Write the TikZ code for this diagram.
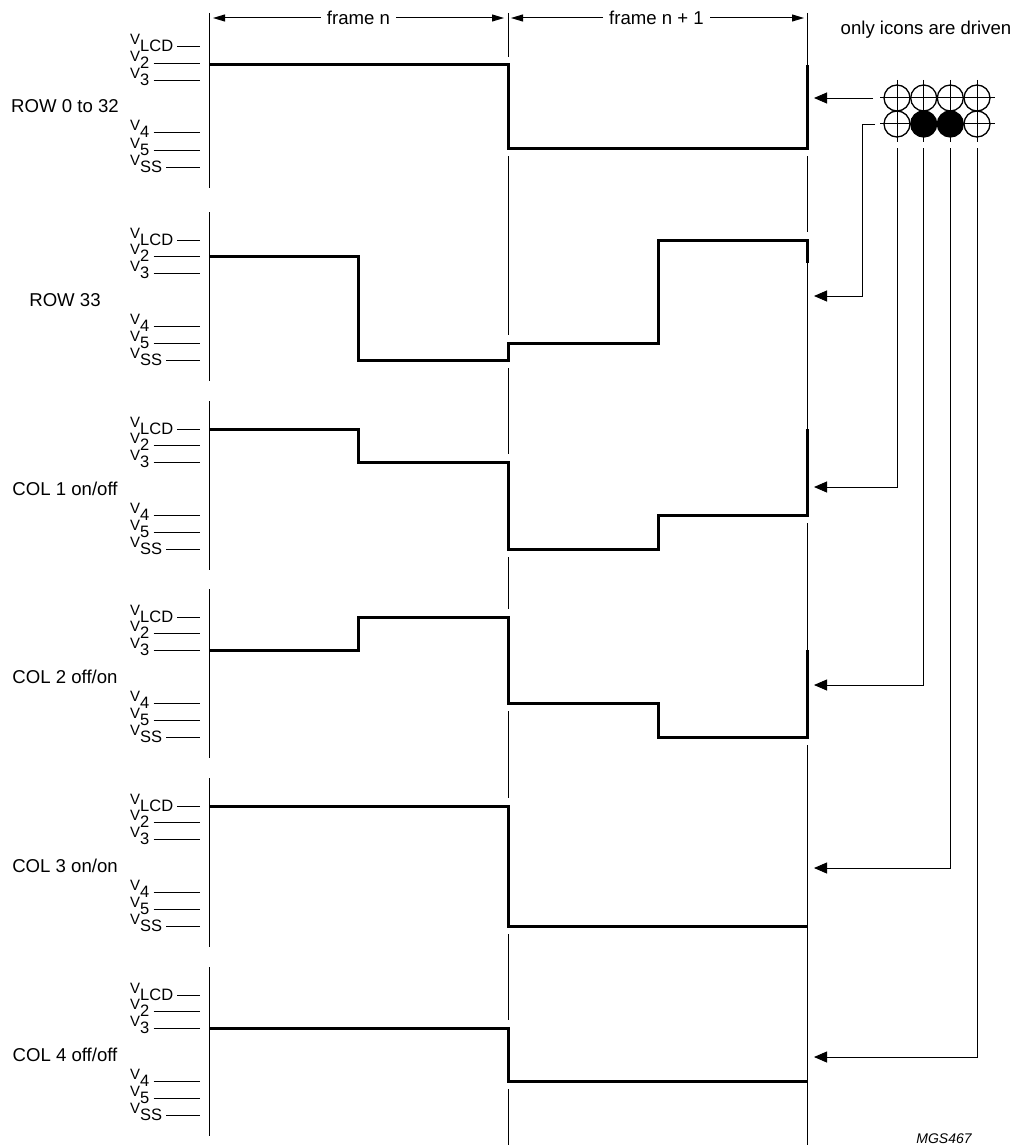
\documentclass[tikz,border=0pt]{standalone}
\usepackage{fontspec}
\setmainfont{Liberation Sans}
\usetikzlibrary{arrows.meta,calc}
\newcommand{\txtsz}{\fontsize{18.6}{20}\selectfont}
\newcommand{\vsz}{\fontsize{15}{16}\selectfont}
\newcommand{\subsz}{\fontsize{16.5}{17}\selectfont}
\tikzset{
  thinln/.style={line width=1pt},
  tickln/.style={line width=1pt},
  wave/.style={line width=3pt, line join=miter,
    preaction={draw=white, line width=16pt, line cap=square}},
  vlab/.style={inner sep=0pt, anchor=base west, font=\vsz},
  rowlab/.style={inner sep=0pt, anchor=base, font=\txtsz},
  hlab/.style={inner xsep=6pt, inner ysep=0pt, font=\txtsz},
  harrow/.style={line width=1pt, -{Triangle[length=12pt,width=7pt]}},
  conn/.style={line width=0.9pt, -{Triangle[length=13pt,width=11pt]}},
  icon/.style={circle, draw, line width=1.3pt, minimum size=26pt, inner sep=0pt},
  iconon/.style={icon, fill=black},
}
\newcommand{\drawpanel}[4]{%
  \foreach \nm/\ssub/\dy in {a/LCD/0,b/2/16.7,c/3/33.3,d/4/86,e/5/103,f/SS/120}{%
    \coordinate (#1\nm) at (200,#2+\dy);
    \node[vlab] (#1\nm l) at (130,#2+\dy-2) {V\raisebox{-7pt}{\subsz\ssub}};
    \draw[tickln] ([xshift=4pt]#1\nm l.east |- #1\nm) -- (#1\nm);
  }
  \coordinate (#1top) at (209,#4);
  \coordinate (#1bot) at (209,#2+141);
  \draw[thinln] (#1top) -- (#1bot);
  \node[rowlab] (#1lab) at (65,#2+66) {#3};
}
\begin{document}
\begin{tikzpicture}[x=1pt,y=-1pt]
\useasboundingbox (0,0) rectangle (1021,1145);

% frame boundary lines
\coordinate (mT) at (508,13); \coordinate (mB) at (508,1145);
\coordinate (rT) at (807,13); \coordinate (rB) at (807,1145);
\draw[thinln] (mT) -- (mB);
\draw[thinln] (rT) -- (rB);

% waveforms
\draw[wave] (209,65) -- (508,65) -- (508,148) -- (807,148) -- (807,65);
\draw[wave] (209,256.7) -- (358,256.7) -- (358,360) -- (508,360) -- (508,343) -- (658,343) -- (658,240) -- (807,240) -- (807,263);
\draw[wave] (209,429) -- (358,429) -- (358,462.3) -- (508,462.3) -- (508,549) -- (658,549) -- (658,515) -- (807,515) -- (807,429);
\draw[wave] (209,650.3) -- (358,650.3) -- (358,617) -- (508,617) -- (508,703) -- (658,703) -- (658,737) -- (807,737) -- (807,650.3);
\draw[wave] (209,806) -- (508,806) -- (508,926) -- (807,926);
\draw[wave] (209,1028.3) -- (508,1028.3) -- (508,1081) -- (807,1081);

% panels: axis, level ticks, labels
\drawpanel{pa}{47}{ROW 0 to 32}{13}
\drawpanel{pb}{240}{ROW 33}{212}
\drawpanel{pc}{429}{COL 1 on/off}{401}
\drawpanel{pd}{617}{COL 2 off/on}{589}
\drawpanel{pe}{806}{COL 3 on/on}{778}
\drawpanel{pf}{995}{COL 4 off/off}{967}

% header
\coordinate (hL) at (213,18);
\coordinate (hM1) at (504,18);
\coordinate (hM2) at (511,18);
\coordinate (hR) at (804,18);
\node[hlab] (fn) at (358.5,18) {frame n};
\node[hlab] (fn1) at (656.5,18) {frame n + 1};
\draw[harrow] (fn.west) -- (hL);
\draw[harrow] (fn.east) -- (hM1);
\draw[harrow] (fn1.west) -- (hM2);
\draw[harrow] (fn1.east) -- (hR);
\node[font=\txtsz, anchor=base] (only) at (926,35) {only icons are driven};

% icon grid
\foreach \y in {98,124} \draw[line width=1pt] (880,\y) -- (995,\y);
\foreach \x in {897,923.7,950.3,977} \draw[line width=1pt] (\x,80) -- (\x,142);
\node[icon] (i11) at (897,98) {};
\node[icon] (i12) at (923.7,98) {};
\node[icon] (i13) at (950.3,98) {};
\node[icon] (i14) at (977,98) {};
\node[icon] (i21) at (897,124) {};
\node[iconon] (i22) at (923.7,124) {};
\node[iconon] (i23) at (950.3,124) {};
\node[icon] (i24) at (977,124) {};

% connectors
\coordinate (r1s) at (873,98);
\coordinate (r2s) at (875,124);
\coordinate (k2) at (862,296);
\coordinate (c1s) at (897,148);
\coordinate (c2s) at (923.7,148);
\coordinate (c3s) at (950.3,148);
\coordinate (c4s) at (977,148);
\coordinate (aa) at (814,98);
\coordinate (ab) at (814,296);
\coordinate (ac) at (814,487);
\coordinate (ad) at (814,685);
\coordinate (ae) at (814,868);
\coordinate (af) at (814,1057);
\draw[conn] (r1s) -- (aa);
\draw[conn] (r2s) -| (k2) -- (ab);
\draw[conn] (c1s) |- (ac);
\draw[conn] (c2s) |- (ad);
\draw[conn] (c3s) |- (ae);
\draw[conn] (c4s) |- (af);

\node[font=\fontsize{14}{15}\selectfont\itshape, anchor=base] (code) at (944,1143) {MGS467};
\end{tikzpicture}
\end{document}
